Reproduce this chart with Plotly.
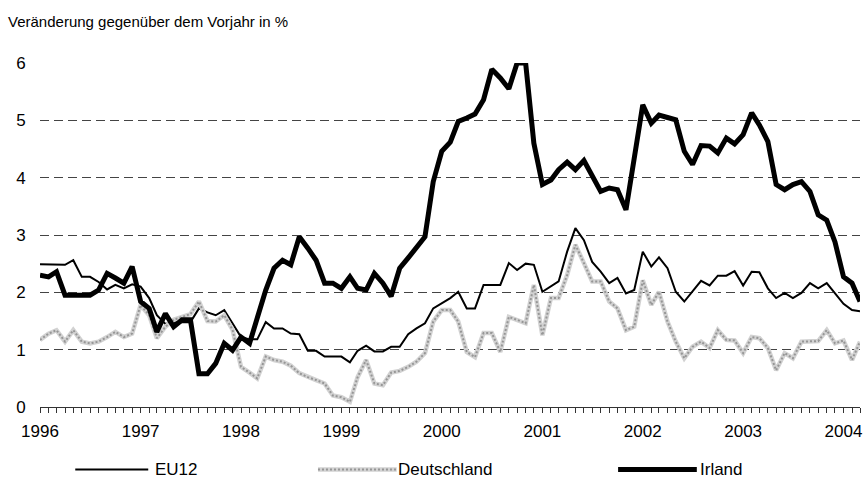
import pandas as pd
import plotly.graph_objects as go

# ---- data: monthly change vs. previous year in %, Jan 1996 .. Mar 2004 -----
months = pd.date_range("1996-01-01", periods=99, freq="MS")
# one tick per month, a year label under every January
month_labels = [str(d.year) if d.month == 1 else "" for d in months]

eu12 = [
    2.49, 2.49, 2.48, 2.48, 2.56, 2.27, 2.27, 2.18, 2.05, 2.13, 2.07, 2.14,
    2.10, 1.90, 1.60, 1.45, 1.48, 1.48, 1.48, 1.72, 1.65, 1.60, 1.69, 1.46,
    1.22, 1.18, 1.18, 1.48, 1.37, 1.37, 1.28, 1.27, 0.98, 0.98, 0.88, 0.88,
    0.88, 0.78, 0.98, 1.07, 0.97, 0.97, 1.05, 1.05, 1.27, 1.37, 1.46, 1.72,
    1.81, 1.90, 2.01, 1.72, 1.72, 2.13, 2.13, 2.13, 2.51, 2.39, 2.50, 2.48,
    2.01, 2.10, 2.19, 2.71, 3.12, 2.91, 2.53, 2.36, 2.16, 2.25, 1.98, 2.04,
    2.71, 2.45, 2.61, 2.42, 2.01, 1.84, 2.01, 2.20, 2.12, 2.29, 2.29, 2.37,
    2.12, 2.36, 2.35, 2.07, 1.90, 1.99, 1.90, 1.99, 2.16, 2.07, 2.16, 1.99,
    1.80, 1.69, 1.67,
]

deutschland = [
    1.17, 1.28, 1.34, 1.14, 1.34, 1.14, 1.11, 1.14, 1.22, 1.31, 1.22, 1.28,
    1.78, 1.60, 1.20, 1.40, 1.52, 1.57, 1.62, 1.84, 1.50, 1.49, 1.60, 1.35,
    0.70, 0.60, 0.50, 0.88, 0.82, 0.79, 0.72, 0.59, 0.52, 0.47, 0.41, 0.20,
    0.17, 0.09, 0.52, 0.82, 0.41, 0.38, 0.60, 0.63, 0.70, 0.79, 0.94, 1.49,
    1.69, 1.69, 1.49, 0.96, 0.87, 1.29, 1.29, 0.96, 1.57, 1.52, 1.46, 2.13,
    1.25, 1.90, 1.90, 2.30, 2.83, 2.51, 2.19, 2.19, 1.84, 1.72, 1.34, 1.40,
    2.21, 1.78, 2.01, 1.49, 1.14, 0.85, 1.05, 1.14, 1.03, 1.34, 1.17, 1.16,
    0.94, 1.22, 1.20, 1.03, 0.64, 0.94, 0.85, 1.14, 1.14, 1.15, 1.34, 1.11,
    1.16, 0.82, 1.14,
]

irland = [
    2.30, 2.27, 2.36, 1.95, 1.95, 1.94, 1.95, 2.04, 2.33, 2.25, 2.16, 2.45,
    1.84, 1.72, 1.31, 1.63, 1.40, 1.52, 1.52, 0.58, 0.58, 0.76, 1.11, 0.99,
    1.22, 1.11, 1.57, 2.04, 2.42, 2.56, 2.48, 2.97, 2.77, 2.56, 2.16, 2.16,
    2.07, 2.27, 2.07, 2.04, 2.33, 2.16, 1.93, 2.42, 2.60, 2.77, 2.97, 3.93,
    4.46, 4.62, 4.98, 5.04, 5.11, 5.36, 5.89, 5.74, 5.55, 6.00, 6.00, 4.60,
    3.88, 3.96, 4.14, 4.27, 4.14, 4.30, 4.02, 3.76, 3.82, 3.79, 3.44, 4.34,
    5.27, 4.95, 5.09, 5.05, 5.01, 4.46, 4.23, 4.56, 4.55, 4.43, 4.69, 4.59,
    4.75, 5.13, 4.92, 4.63, 3.88, 3.79, 3.88, 3.93, 3.76, 3.35, 3.26, 2.88,
    2.27, 2.16, 1.84,
]

FONT = "Arial, Liberation Sans, sans-serif"
GRAY_BAND = "#d2d2d2"
GRAY_DOTS = "#969696"
AXIS = "#333333"

fig = go.Figure()
fig.add_trace(go.Scatter(x=months, y=eu12, name="EU12", mode="lines",
                         line=dict(color="black", width=2)))
# Deutschland: light band with a dotted texture on top
fig.add_trace(go.Scatter(x=months, y=deutschland, name="Deutschland", mode="lines",
                         line=dict(color=GRAY_BAND, width=4.5)))
fig.add_trace(go.Scatter(x=months, y=deutschland, name="Deutschland", mode="lines",
                         line=dict(color=GRAY_DOTS, width=2, dash="2px,2px")))
fig.add_trace(go.Scatter(x=months, y=irland, name="Irland", mode="lines",
                         line=dict(color="black", width=5)))

fig.update_layout(
    xaxis=dict(
        type="date",
        range=[months[0], months[-1]],
        tickmode="array", tickvals=list(months), ticktext=month_labels,
        ticks="outside", ticklen=5, tickcolor=AXIS, tickwidth=1,
        showgrid=False, showline=True, linecolor=AXIS, linewidth=1,
        tickfont=dict(family=FONT, size=17, color="black"),
        ticklabelstandoff=4, zeroline=False,
    ),
    yaxis=dict(
        range=[0, 6], dtick=1, showgrid=True, gridcolor="#444444", gridwidth=1,
        griddash="9px,5px", zeroline=False, showline=False,
        ticks="outside", ticklen=10, tickcolor="white",
        tickfont=dict(family=FONT, size=17, color="black"),
    ),
)

# hand-made legend below the plot (long line samples like the original)
legend_y = -0.182
legend_items = [
    # label, sample start, sample end, text start (paper x)
    ("EU12", 0.043, 0.132, 0.140),
    ("Deutschland", 0.339, 0.435, 0.437),
    ("Irland", 0.705, 0.801, 0.805),
]
shapes = []
for lbl, x0, x1, xt in legend_items:
    seg = dict(type="line", xref="paper", yref="paper", x0=x0, x1=x1,
               y0=legend_y, y1=legend_y)
    if lbl == "EU12":
        shapes.append({**seg, "line": dict(color="black", width=2)})
    elif lbl == "Deutschland":
        shapes.append({**seg, "line": dict(color=GRAY_BAND, width=4.5)})
        shapes.append({**seg, "line": dict(color=GRAY_DOTS, width=2, dash="2px,2px")})
    else:
        shapes.append({**seg, "line": dict(color="black", width=5)})
    fig.add_annotation(text=lbl, xref="paper", yref="paper", x=xt, y=legend_y,
                       xanchor="left", yanchor="middle", showarrow=False,
                       xshift=-2, font=dict(family=FONT, size=17, color="black"))

fig.update_layout(
    template="none",
    width=864, height=479,
    margin=dict(l=40, r=4, t=63, b=72),
    plot_bgcolor="white", paper_bgcolor="white",
    showlegend=False, shapes=shapes,
    title=dict(text="Veränderung gegenüber dem Vorjahr in %",
               xref="container", yref="container", x=8 / 864, xanchor="left",
               y=1 - 22 / 479, yanchor="middle",
               font=dict(family=FONT, size=15, color="black")),
)

fig.write_html("out.html", config=dict(displayModeBar=False),
               post_script="document.body.style.margin='0px';")
